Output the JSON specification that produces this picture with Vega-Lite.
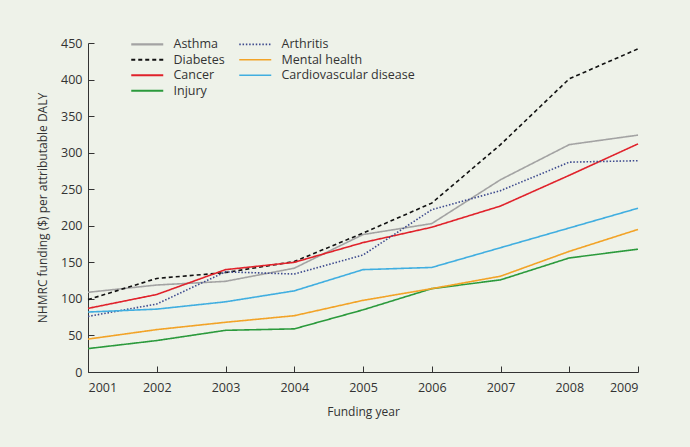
{
  "$schema": "https://vega.github.io/schema/vega-lite/v6.json",
  "width": 550,
  "height": 329,
  "autosize": {"type": "none"},
  "padding": {"left": 88, "top": 43, "right": 52, "bottom": 75},
  "background": "#eef2e9",
  "config": {
    "view": {"stroke": null},
    "font": "Open Sans",
    "axis": {"grid": false, "domainColor": "#333333", "tickColor": "#333333", "labelColor": "#333333", "titleColor": "#333333", "labelFontSize": 12.5, "titleFontSize": 12, "titleFontWeight": "normal"}
  },
  "data": {
    "values": [
      {"year": 2001, "disease": "Asthma", "value": 109},
      {"year": 2002, "disease": "Asthma", "value": 119},
      {"year": 2003, "disease": "Asthma", "value": 124},
      {"year": 2004, "disease": "Asthma", "value": 142},
      {"year": 2005, "disease": "Asthma", "value": 188},
      {"year": 2006, "disease": "Asthma", "value": 203},
      {"year": 2007, "disease": "Asthma", "value": 263},
      {"year": 2008, "disease": "Asthma", "value": 311},
      {"year": 2009, "disease": "Asthma", "value": 324},
      {"year": 2001, "disease": "Diabetes", "value": 99},
      {"year": 2002, "disease": "Diabetes", "value": 128},
      {"year": 2003, "disease": "Diabetes", "value": 136},
      {"year": 2004, "disease": "Diabetes", "value": 151},
      {"year": 2005, "disease": "Diabetes", "value": 190},
      {"year": 2006, "disease": "Diabetes", "value": 231},
      {"year": 2007, "disease": "Diabetes", "value": 311},
      {"year": 2008, "disease": "Diabetes", "value": 401},
      {"year": 2009, "disease": "Diabetes", "value": 442},
      {"year": 2001, "disease": "Cancer", "value": 87},
      {"year": 2002, "disease": "Cancer", "value": 106},
      {"year": 2003, "disease": "Cancer", "value": 140},
      {"year": 2004, "disease": "Cancer", "value": 150},
      {"year": 2005, "disease": "Cancer", "value": 177},
      {"year": 2006, "disease": "Cancer", "value": 198},
      {"year": 2007, "disease": "Cancer", "value": 227},
      {"year": 2008, "disease": "Cancer", "value": 269},
      {"year": 2009, "disease": "Cancer", "value": 312},
      {"year": 2001, "disease": "Injury", "value": 32},
      {"year": 2002, "disease": "Injury", "value": 43},
      {"year": 2003, "disease": "Injury", "value": 57},
      {"year": 2004, "disease": "Injury", "value": 59},
      {"year": 2005, "disease": "Injury", "value": 85},
      {"year": 2006, "disease": "Injury", "value": 114},
      {"year": 2007, "disease": "Injury", "value": 126},
      {"year": 2008, "disease": "Injury", "value": 156},
      {"year": 2009, "disease": "Injury", "value": 168},
      {"year": 2001, "disease": "Arthritis", "value": 76},
      {"year": 2002, "disease": "Arthritis", "value": 93},
      {"year": 2003, "disease": "Arthritis", "value": 137},
      {"year": 2004, "disease": "Arthritis", "value": 134},
      {"year": 2005, "disease": "Arthritis", "value": 160},
      {"year": 2006, "disease": "Arthritis", "value": 222},
      {"year": 2007, "disease": "Arthritis", "value": 248},
      {"year": 2008, "disease": "Arthritis", "value": 287},
      {"year": 2009, "disease": "Arthritis", "value": 289},
      {"year": 2001, "disease": "Mental health", "value": 45},
      {"year": 2002, "disease": "Mental health", "value": 58},
      {"year": 2003, "disease": "Mental health", "value": 68},
      {"year": 2004, "disease": "Mental health", "value": 77},
      {"year": 2005, "disease": "Mental health", "value": 98},
      {"year": 2006, "disease": "Mental health", "value": 114},
      {"year": 2007, "disease": "Mental health", "value": 131},
      {"year": 2008, "disease": "Mental health", "value": 165},
      {"year": 2009, "disease": "Mental health", "value": 195},
      {"year": 2001, "disease": "Cardiovascular disease", "value": 82},
      {"year": 2002, "disease": "Cardiovascular disease", "value": 86},
      {"year": 2003, "disease": "Cardiovascular disease", "value": 96},
      {"year": 2004, "disease": "Cardiovascular disease", "value": 111},
      {"year": 2005, "disease": "Cardiovascular disease", "value": 140},
      {"year": 2006, "disease": "Cardiovascular disease", "value": 143},
      {"year": 2007, "disease": "Cardiovascular disease", "value": 170},
      {"year": 2008, "disease": "Cardiovascular disease", "value": 197},
      {"year": 2009, "disease": "Cardiovascular disease", "value": 224}
    ]
  },
  "mark": {"type": "line", "strokeWidth": 1.6},
  "encoding": {
    "x": {
      "field": "year", "type": "quantitative",
      "scale": {"domain": [2001, 2009], "nice": false, "zero": false},
      "axis": {"values": [2001, 2002, 2003, 2004, 2005, 2006, 2007, 2008, 2009], "format": "d", "title": "Funding year", "tickSize": -6, "labelPadding": 15, "titlePadding": 13}
    },
    "y": {
      "field": "value", "type": "quantitative",
      "scale": {"domain": [0, 450], "nice": false},
      "axis": {"values": [0, 50, 100, 150, 200, 250, 300, 350, 400, 450], "title": "NHMRC funding ($) per attributable DALY", "tickSize": -6, "labelPadding": 12, "titlePadding": 11}
    },
    "color": {
      "field": "disease", "type": "nominal",
      "scale": {
        "domain": ["Asthma", "Diabetes", "Cancer", "Injury", "Arthritis", "Mental health", "Cardiovascular disease"],
        "range": ["#a3a3a3", "#111111", "#e0222b", "#2b9a3c", "#3d4a8e", "#f2a327", "#40aee0"]
      },
      "legend": {
        "title": null, "orient": "none", "legendX": 53, "legendY": -5, "columns": 2, "columnPadding": 10, "rowPadding": 2.5,
        "symbolType": "M-4,0H4", "symbolSize": 64, "symbolStrokeWidth": 2, "labelFontSize": 12.5, "labelColor": "#333333", "labelOffset": 20, "padding": 0
      }
    },
    "strokeDash": {
      "field": "disease", "type": "nominal",
      "scale": {
        "domain": ["Asthma", "Diabetes", "Cancer", "Injury", "Arthritis", "Mental health", "Cardiovascular disease"],
        "range": [[1, 0], [4, 3], [1, 0], [1, 0], [1.5, 1.8], [1, 0], [1, 0]]
      },
      "legend": null
    },
    "strokeWidth": {
      "field": "disease", "type": "nominal",
      "scale": {
        "domain": ["Asthma", "Diabetes", "Cancer", "Injury", "Arthritis", "Mental health", "Cardiovascular disease"],
        "range": [2.2, 1.6, 1.5, 1.5, 1.6, 1.5, 1.5]
      },
      "legend": null
    }
  }
}
